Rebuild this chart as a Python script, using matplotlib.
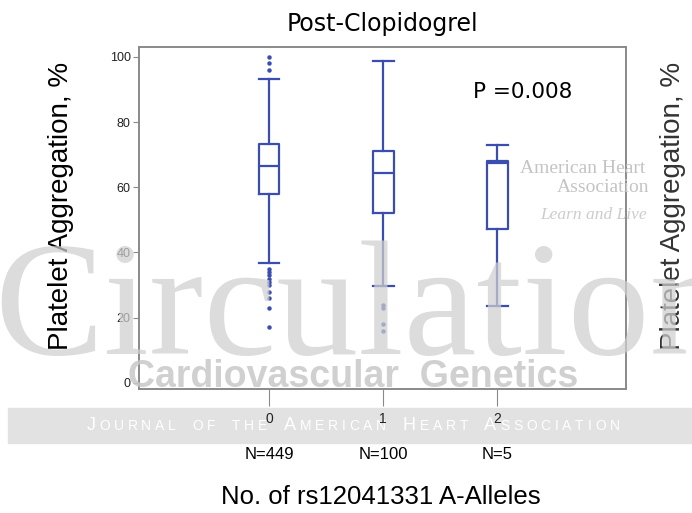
import matplotlib.pyplot as plt
from matplotlib.patches import Rectangle
from matplotlib.transforms import blended_transform_factory
from matplotlib.offsetbox import TextArea, HPacker, AnnotationBbox

# box summaries per allele count
alleles = ['0', '1', '2']
n_labels = ['N=449', 'N=100', 'N=5']
medians = [66.4, 64.3, 67.6]
q1 = [58.0, 52.2, 47.2]
q3 = [73.2, 71.2, 68.2]
whisker_lo = [36.7, 29.8, 23.7]
whisker_hi = [93.1, 98.9, 73.0]
fliers = [
    [100, 98, 96, 35, 34, 33, 32, 31, 30, 28, 26, 23, 17],
    [24, 23, 18, 16],
    [],
]
p_text = 'P =0.008'

blue = '#3a4db0'
sans = ['Liberation Sans', 'DejaVu Sans']
narrow = ['Liberation Sans Narrow', 'Liberation Sans', 'DejaVu Sans']
serif = ['Liberation Serif', 'DejaVu Serif']
positions = [0, 1, 2]

fig = plt.figure(figsize=(6.92, 5.13), dpi=100)
ax = fig.add_axes([0.201, 0.241, 0.704, 0.667])
ax.set_zorder(2)

stats = []
for i in range(len(alleles)):
    stats.append({'med': medians[i], 'q1': q1[i], 'q3': q3[i],
                  'whislo': whisker_lo[i], 'whishi': whisker_hi[i],
                  'fliers': fliers[i]})

line = dict(color=blue, linewidth=1.6)
ax.bxp(stats, positions=positions, widths=0.18, showfliers=True,
       boxprops=line, whiskerprops=line, capprops=line, medianprops=line,
       capwidths=0.18,
       flierprops=dict(marker='o', markersize=2.2, markerfacecolor=blue,
                       markeredgecolor=blue, linestyle='none'))

ax.set_xlim(-1.14, 3.13)
ax.set_ylim(-2, 103)
ax.set_yticks([0, 20, 40, 60, 80, 100])
ax.set_xticks(positions)
ax.set_xticklabels(alleles)
for s in ax.spines.values():
    s.set_color('#8a8a8a')
    s.set_linewidth(1.4)
ax.tick_params(axis='y', colors='#8a8a8a', labelcolor='#222222', length=4,
               labelsize=9, pad=2)
ax.tick_params(axis='x', colors='#8a8a8a', labelcolor='#222222', length=12,
               labelsize=10, pad=4)
for t in ax.get_xticklabels() + ax.get_yticklabels():
    t.set_family(narrow)

ax.set_title('Post-Clopidogrel', fontsize=17, pad=12, family='DejaVu Sans')
ax.text(0.686, 0.852, p_text, transform=ax.transAxes, fontsize=15.5,
        family='DejaVu Sans', va='baseline')

# sample sizes under each group
tr = blended_transform_factory(ax.transData, ax.transAxes)
for x, lab in zip(positions, n_labels):
    ax.text(x, -0.19, lab, transform=tr, ha='center', va='center',
            fontsize=12, family=narrow, clip_on=False)

fig.text(0.55, 0.031, 'No. of rs12041331 A-Alleles', ha='center',
         va='center', fontsize=18.5, family=narrow)
fig.text(0.088, 0.598, 'Platelet Aggregation, %', rotation=90,
         ha='center', va='center', fontsize=20, family=sans)
fig.text(0.972, 0.598, 'Platelet Aggregation, %', rotation=90,
         ha='center', va='center', fontsize=20, family=sans,
         color='#333333')

# journal watermark
fig.text(-0.008, 0.31, 'Circulation', fontsize=118, family=serif,
         color='#cfcfcf', alpha=0.72, ha='left', va='baseline', zorder=5)
fig.text(0.51, 0.265, 'Cardiovascular  Genetics', fontsize=27,
         weight='bold', family=narrow, color='#c8c8c8', alpha=0.85,
         ha='center', va='center', zorder=5)
fig.text(0.752, 0.672, 'American Heart', fontsize=14, family=serif,
         color='#c4c4c4', ha='left', va='center', zorder=5)
fig.text(0.938, 0.635, 'Association', fontsize=14, family=serif,
         color='#c4c4c4', ha='right', va='center', zorder=5)
fig.text(0.935, 0.58, 'Learn and Live', fontsize=12.5, style='italic',
         family=serif, color='#cccccc', ha='right', va='center', zorder=5)

fig.patches.append(Rectangle((0.012, 0.137), 1.0, 0.068,
                             transform=fig.transFigure, color='#e2e2e2',
                             zorder=1))

# small-caps journal banner
banner = 'Journal of the American Heart Association'
words = []
for w in banner.split():
    letters = []
    for ch in w:
        size = 13 if ch.isupper() else 10
        letters.append(TextArea(ch.upper(), textprops=dict(
            fontsize=size, color='white', family=sans)))
    words.append(HPacker(children=letters, align='baseline', pad=0, sep=2.7))
row = HPacker(children=words, align='baseline', pad=0, sep=12)
ab = AnnotationBbox(row, (0.51, 0.171), xycoords='figure fraction',
                    frameon=False, box_alignment=(0.5, 0.5), pad=0)
ab.set_zorder(1.5)
fig.add_artist(ab)

fig.savefig('out.png', dpi=100)
